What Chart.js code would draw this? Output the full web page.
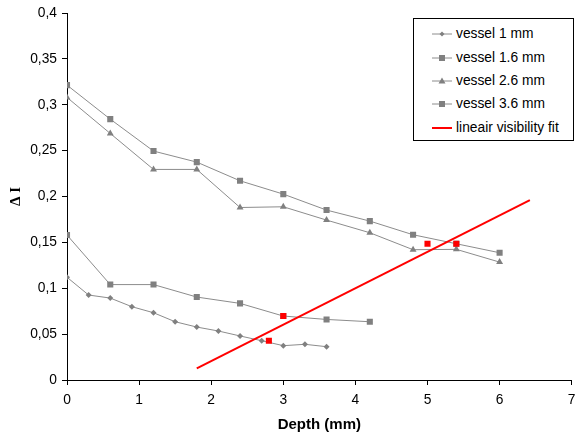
<!DOCTYPE html>
<html>
<head>
<meta charset="utf-8">
<script src="https://cdn.jsdelivr.net/npm/chart.js@4"></script>
<style>
  html, body { margin: 0; padding: 0; background: #fff; }
  #wrap { position: relative; width: 576px; height: 434px; }
  #legend { position: absolute; left: 413px; top: 18px; width: 159px; height: 121px;
    border: 1px solid #000; background: #fff; font-family: "Liberation Sans", Arial, sans-serif; font-size: 13.8px; color: #000; }
  .row { position: absolute; left: 0; height: 16px; line-height: 16px; white-space: nowrap; }
  .row svg { position: absolute; left: 18px; top: 0; }
  .row span { position: absolute; left: 42px; top: 0; }
</style>
</head>
<body>
<div id="wrap">
  <canvas id="c" width="576" height="434"></canvas>
  <div id="legend"></div>
</div>
<script>
const depth1   = [0, 0.3, 0.6, 0.9, 1.2, 1.5, 1.8, 2.1, 2.4, 2.7, 3.0, 3.3, 3.6];
const vessel1  = [0.112, 0.0926, 0.0893, 0.0799, 0.0733, 0.0635, 0.0577, 0.0534, 0.048, 0.0428, 0.0374, 0.0389, 0.0363];
const depth16  = [0, 0.6, 1.2, 1.8, 2.4, 3.0, 3.6, 4.2];
const vessel16 = [0.158, 0.104, 0.104, 0.0904, 0.0835, 0.0697, 0.066, 0.0635];
const depth26  = [0, 0.6, 1.2, 1.8, 2.4, 3.0, 3.6, 4.2, 4.8, 5.4, 6.0];
const vessel26 = [0.308, 0.2687, 0.2295, 0.2295, 0.188, 0.1888, 0.1743, 0.1605, 0.142, 0.1424, 0.1285];
const depth36  = [0, 0.6, 1.2, 1.8, 2.4, 3.0, 3.6, 4.2, 4.8, 5.4, 6.0];
const vessel36 = [0.3214, 0.2843, 0.2495, 0.2375, 0.2171, 0.2026, 0.1852, 0.1732, 0.1583, 0.1485, 0.1387];
const visDepth = [2.8, 3.0, 5.0, 5.4];
const visValue = [0.0428, 0.0697, 0.1485, 0.1485];
const fitDepth = [1.8, 6.42];
const fitValue = [0.0127, 0.196];
const seriesNames = ["vessel 1 mm", "vessel 1.6 mm", "vessel 2.6 mm", "vessel 3.6 mm", "lineair visibility fit"];
const xTicks = [0, 1, 2, 3, 4, 5, 6, 7];
const yTicks = [0, 0.05, 0.1, 0.15, 0.2, 0.25, 0.3, 0.35, 0.4];

const pts = (xs, ys) => xs.map((x, i) => ({x, y: ys[i]}));
const LINE = '#8c8c8c', MARK = '#808080';
const FONT = '"Liberation Sans", Arial, sans-serif';

function series(label, xs, ys, style, radius, order) {
  return { label, data: pts(xs, ys), borderColor: LINE, borderWidth: 1, backgroundColor: MARK,
    pointBackgroundColor: MARK, pointBorderColor: MARK, pointBorderWidth: 0, pointStyle: style,
    pointRadius: radius, showLine: true, order, tension: 0 };
}

const ds = [
  series(seriesNames[0], depth1, vessel1, 'rectRot', 3, 4),
  series(seriesNames[1], depth16, vessel16, 'rect', 4.3, 3),
  series(seriesNames[2], depth26, vessel26, 'triangle', 4, 2),
  series(seriesNames[3], depth36, vessel36, 'rect', 4.3, 1),
  { label: seriesNames[4], data: pts(fitDepth, fitValue), borderColor: '#ff0000', borderWidth: 2,
    pointRadius: 0, showLine: true, order: 0 },
  { label: 'visibility', data: pts(visDepth, visValue), showLine: false, pointStyle: 'rect',
    pointRadius: 4.3, pointBackgroundColor: '#ff0000', pointBorderColor: '#ff0000', pointBorderWidth: 0, order: -1 }
];

const fmt = v => String(Math.round(v * 100) / 100).replace('.', ',');

new Chart(document.getElementById('c'), {
  type: 'scatter',
  data: { datasets: ds },
  options: {
    responsive: false, animation: false, devicePixelRatio: 1,
    layout: { padding: { top: 13, right: 3, left: 0, bottom: 0 } },
    plugins: { legend: { display: false }, tooltip: { enabled: false } },
    scales: {
      x: { type: 'linear', min: 0, max: 7,
        afterBuildTicks: s => { s.ticks = xTicks.map(v => ({value: v})); },
        afterFit: s => { s.height = 54; s.paddingRight = 0; s.paddingLeft = 0; },
        grid: { drawOnChartArea: false, drawTicks: true, tickLength: 5, color: '#000' },
        border: { color: '#000', width: 1 },
        ticks: { color: '#000', font: { family: FONT, size: 13.8 }, padding: 7, maxRotation: 0, callback: v => fmt(v) },
        title: { display: true, text: 'Depth (mm)', color: '#000', font: { family: FONT, size: 15, weight: 'bold' }, padding: { top: 2, bottom: 0 } }
      },
      y: { type: 'linear', min: 0, max: 0.4,
        afterBuildTicks: s => { s.ticks = yTicks.map(v => ({value: v})); },
        afterFit: s => { s.width = 67; s.paddingTop = 0; s.paddingBottom = 0; },
        grid: { drawOnChartArea: false, drawTicks: true, tickLength: 5, color: '#000' },
        border: { color: '#000', width: 1 },
        ticks: { color: '#000', font: { family: FONT, size: 13.8 }, padding: 5, callback: v => fmt(v) },
        title: { display: true, text: 'Δ I', color: '#000', font: { family: '"Liberation Serif", "Times New Roman", serif', size: 15, weight: 'bold' }, padding: { top: 7, bottom: 0 } }
      }
    }
  }
});

// HTML legend built from the datasets
const legend = document.getElementById('legend');
const rowTops = [7, 31, 54, 77, 101];
ds.slice(0, 5).forEach((d, i) => {
  const row = document.createElement('div');
  row.className = 'row';
  row.style.top = rowTops[i] + 'px';
  let sym = '';
  if (i === 4) {
    sym = '<line x1="0" y1="8" x2="20" y2="8" stroke="#ff0000" stroke-width="2"/>';
  } else {
    sym = '<line x1="0" y1="8" x2="20" y2="8" stroke="' + LINE + '" stroke-width="1"/>';
    if (d.pointStyle === 'rectRot') sym += '<polygon points="10,5.5 12.5,8 10,10.5 7.5,8" fill="' + MARK + '"/>';
    else if (d.pointStyle === 'rect') sym += '<rect x="7" y="5" width="6" height="6" fill="' + MARK + '"/>';
    else sym += '<polygon points="10,4.5 13.5,10.5 6.5,10.5" fill="' + MARK + '"/>';
  }
  row.innerHTML = '<svg width="20" height="16">' + sym + '</svg><span>' + d.label + '</span>';
  legend.appendChild(row);
});
</script>
</body>
</html>
